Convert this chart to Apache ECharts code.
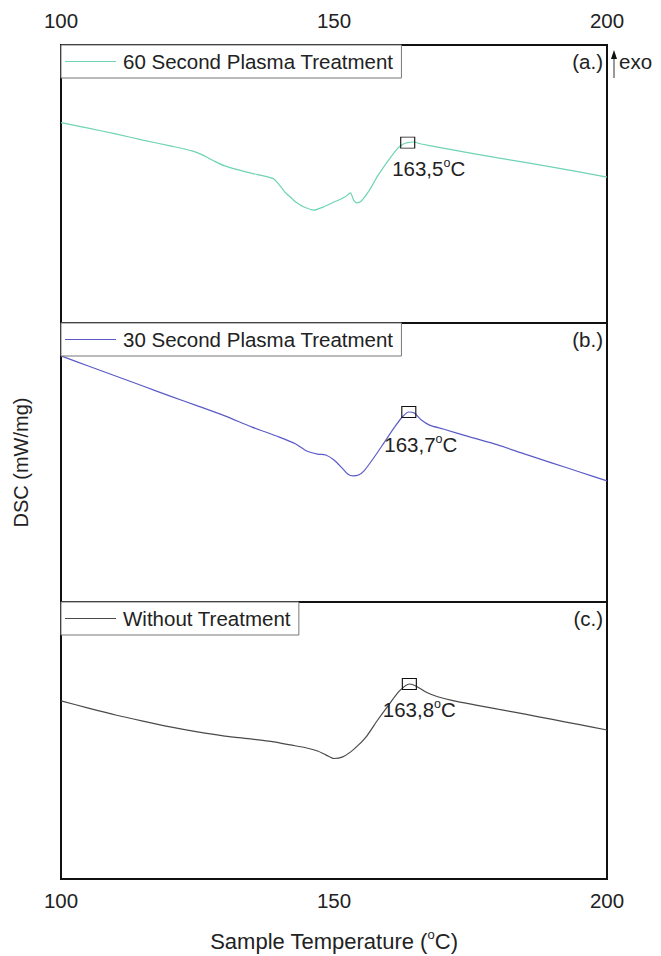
<!DOCTYPE html>
<html>
<head>
<meta charset="utf-8">
<script src="https://cdn.jsdelivr.net/npm/echarts@6/dist/echarts.min.js"></script>
<style>
html,body{margin:0;padding:0;background:#fff;}
#chart{width:661px;height:956px;}
</style>
</head>
<body>
<div id="chart"></div>
<script>
// ---- data (DSC in arbitrary relative units, exo up) ----
const seriesNames = ['60 Second Plasma Treatment', '30 Second Plasma Treatment', 'Without Treatment'];
const panelTags = ['(a.)', '(b.)', '(c.)'];
const xTicks = [100, 150, 200];

const tempA = [100,105,110,115,120,124,126,128,130,134,138,139,140,141,142,143,144.5,146.3,148,150,152,153,153.6,154.2,155,156.5,158,160,161.7,162.7,163.5,164.5,166,170,180,190,200];
const dscA  = [72.1,70.1,68.0,65.8,63.7,61.9,60.4,58.3,56.5,54.3,52.5,51.8,49.6,47.1,45.3,43.5,41.7,40.6,41.7,43.5,45.3,46.8,44.2,43.2,43.9,47.8,52.9,58.6,62.9,64.4,64.9,65.1,64.4,62.9,59.4,56.1,52.5];

const tempB = [100,105,110,115,120,125,130,135,140,143,145,147,148.5,150,151.5,152.5,153.5,154.5,155.5,157,159,161,162.5,163.7,164.7,166,167.5,170,175,180,185,190,195,200];
const dscB  = [88.2,84.6,81.0,77.4,73.8,70.3,66.7,62.7,59.1,56.6,54.1,53.0,52.7,50.9,48.0,45.9,45.2,45.5,47.0,50.9,56.6,62.4,66.3,68.1,67.7,65.2,63.4,62.0,59.1,56.3,53.0,49.8,46.6,43.4];

const tempC = [100,105,110,115,120,125,130,135,139,142,145,147,148.5,150,151.5,153,154.5,156,158,160,162,163.8,165,167,169,172,176,180,185,190,195,200];
const dscC  = [64.3,61.7,59.2,57.0,54.9,53.1,51.6,50.5,49.5,48.4,47.3,46.2,44.8,43.5,44.0,45.8,48.4,51.6,57.4,62.8,67.9,70.4,69.7,67.3,65.8,64.3,62.8,61.3,59.5,57.6,55.7,53.8];

const peakTemps  = [163.5, 163.7, 163.8];
const peakLabels = ['163,5', '163,7', '163,8'];

// ---- layout / style ----
const FONT = 'Liberation Sans, Arial, Helvetica, sans-serif';
const colors = ['#6fd3b6', '#5b5bc8', '#4a4a4a'];
const grids = [
  {left: 61, right: 54, top: 45, height: 278},
  {left: 61, right: 54, top: 323, height: 279},
  {left: 61, right: 54, top: 602, height: 277}
];
const labelPos = [[-8, 20], [-17, 26], [-19, 19]];

const temps = [tempA, tempB, tempC];
const dscs = [dscA, dscB, dscC];

function zip(t, v) { return t.map((x, i) => [x, v[i]]); }
function valueAt(t, v, x) { const i = t.indexOf(x); return i >= 0 ? v[i] : null; }

const chart = echarts.init(document.getElementById('chart'), null, {renderer: 'svg'});

const option = {
  backgroundColor: '#fff',
  animation: false,
  grid: grids.map(g => Object.assign({show: true, borderColor: '#111', borderWidth: 2, backgroundColor: 'transparent'}, g)),
  xAxis: [0, 1, 2].map(i => ({
    type: 'value', gridIndex: i, min: 100, max: 200, interval: 50,
    position: i === 0 ? 'top' : 'bottom',
    axisLine: {show: false}, axisTick: {show: false}, splitLine: {show: false},
    axisLabel: {
      show: i !== 1, margin: i === 0 ? 14 : 11,
      fontSize: 20.5, color: '#222', fontFamily: FONT,
      customValues: xTicks
    },
    name: i === 2 ? '{n|Sample Temperature (}{s|o}{n|C)}' : '',
    nameLocation: 'middle', nameGap: 49,
    nameTextStyle: {
      rich: {
        n: {fontSize: 22, color: '#222', fontFamily: FONT, lineHeight: 26},
        s: {fontSize: 13, color: '#222', fontFamily: FONT, verticalAlign: 'top', lineHeight: 26}
      }
    }
  })),
  yAxis: [0, 1, 2].map(i => ({
    type: 'value', gridIndex: i, min: 0, max: 100,
    axisLine: {show: false}, axisTick: {show: false}, splitLine: {show: false},
    axisLabel: {show: false},
    name: i === 1 ? 'DSC (mW/mg)' : '',
    nameLocation: 'middle', nameGap: 30, nameRotate: 90,
    nameTextStyle: {fontSize: 20, color: '#222', fontFamily: FONT}
  })),
  legend: [0, 1, 2].map(i => ({
    data: [seriesNames[i]],
    left: 61, top: grids[i].top,
    orient: 'horizontal',
    icon: 'rect', itemWidth: 51, itemHeight: 1, itemGap: 5,
    padding: [6, 8, 6, 4],
    borderColor: '#777', borderWidth: 1,
    backgroundColor: '#fff',
    textStyle: {fontSize: 20.5, color: '#222', fontFamily: FONT, padding: [0, 0, 0, 2]},
    selectedMode: false
  })),
  series: [0, 1, 2].map(i => ({
    name: seriesNames[i],
    type: 'line',
    xAxisIndex: i, yAxisIndex: i,
    data: zip(temps[i], dscs[i]),
    showSymbol: false, symbol: 'none',
    smooth: 0.25,
    color: colors[i],
    lineStyle: {width: 1.2, color: colors[i]},
    markPoint: {
      symbol: 'rect', symbolSize: [14, 11],
      itemStyle: {color: 'rgba(0,0,0,0)', borderColor: '#111', borderWidth: 1},
      label: {
        show: true,
        position: labelPos[i],
        formatter: '{n|' + peakLabels[i] + '}{s|o}{n|C}',
        rich: {
          n: {fontSize: 20.5, color: '#222', fontFamily: FONT, lineHeight: 24},
          s: {fontSize: 12.5, color: '#222', fontFamily: FONT, verticalAlign: 'top', lineHeight: 24}
        }
      },
      data: [{coord: [peakTemps[i], valueAt(temps[i], dscs[i], peakTemps[i])]}]
    }
  })),
  graphic: [
    ...[0, 1, 2].map(i => ({
      type: 'text', right: 661 - 603, top: grids[i].top + 6,
      style: {text: panelTags[i], font: '20.5px ' + FONT, fill: '#222'}
    })),
    {type: 'line', shape: {x1: 614, y1: 78, x2: 614, y2: 56}, style: {stroke: '#333', lineWidth: 1}},
    {type: 'polygon', shape: {points: [[611, 59], [617, 59], [614, 50]]}, style: {fill: '#111'}},
    {type: 'text', left: 619, top: grids[0].top + 6, style: {text: 'exo', font: '20.5px ' + FONT, fill: '#222'}}
  ]
};

chart.setOption(option);
</script>
</body>
</html>
